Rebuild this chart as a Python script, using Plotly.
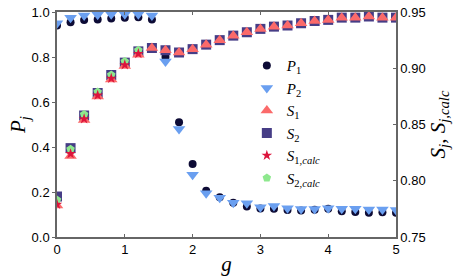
import plotly.graph_objects as go

g = [0.0, 0.2, 0.4, 0.6, 0.8, 1.0, 1.2, 1.4, 1.6, 1.8, 2.0, 2.2, 2.4, 2.6, 2.8,
     3.0, 3.2, 3.4, 3.6, 3.8, 4.0, 4.2, 4.4, 4.6, 4.8, 5.0]
P1 = [0.94, 0.955, 0.964, 0.967, 0.971, 0.974, 0.977, 0.967, 0.80, 0.51, 0.325,
      0.206, 0.177, 0.152, 0.136, 0.127, 0.126, 0.12, 0.118, 0.121, 0.126, 0.114,
      0.111, 0.108, 0.11, 0.108]
P2 = [0.95, 0.975, 0.985, 0.988, 0.99, 0.99, 0.99, 0.985, 0.78, 0.48, 0.277,
      0.195, 0.175, 0.152, 0.15, 0.132, 0.138, 0.128, 0.125, 0.125, 0.128, 0.126,
      0.126, 0.122, 0.122, 0.12]
S1 = [0.778, 0.822, 0.854, 0.875, 0.89, 0.902, 0.912, 0.918, 0.916, 0.914, 0.917,
      0.921, 0.925, 0.929, 0.932, 0.935, 0.937, 0.938, 0.940, 0.942, 0.943, 0.945,
      0.945, 0.946, 0.945, 0.945]
S2 = [0.786, 0.829, 0.858, 0.878, 0.894, 0.905, 0.915, 0.918, 0.916, 0.914, 0.917,
      0.921, 0.925, 0.929, 0.932, 0.935, 0.937, 0.938, 0.940, 0.942, 0.943, 0.945,
      0.945, 0.946, 0.945, 0.945]
g_calc = [0.0, 0.2, 0.4, 0.6, 0.8, 1.0, 1.2]
S1_calc = [0.779, 0.824, 0.855, 0.876, 0.891, 0.903, 0.913]
S2_calc = [0.783, 0.828, 0.859, 0.879, 0.894, 0.906, 0.916]

P_ticks = [0.0, 0.2, 0.4, 0.6, 0.8, 1.0]
S_ticks = [0.75, 0.80, 0.85, 0.90, 0.95]
g_ticks = [0, 1, 2, 3, 4, 5]

serif = "Liberation Serif"
sans = "Liberation Sans"

fig = go.Figure()
fig.add_trace(go.Scatter(x=g, y=P1, mode="markers", name="<i>P</i><sub>1</sub>",
                         marker=dict(symbol="circle", size=8, color="#0d0b35"),
                         legendrank=1))
fig.add_trace(go.Scatter(x=g, y=P2, mode="markers", name="<i>P</i><sub>2</sub>",
                         marker=dict(symbol="triangle-down", size=11, color="#6a9ff0"),
                         legendrank=2))
fig.add_trace(go.Scatter(x=g, y=S2, mode="markers", name="<i>S</i><sub>2</sub>",
                         marker=dict(symbol="square", size=10, color="#463d86"),
                         yaxis="y2", legendrank=4))
fig.add_trace(go.Scatter(x=g, y=S1, mode="markers", name="<i>S</i><sub>1</sub>",
                         marker=dict(symbol="triangle-up", size=11, color="#fb6a6a"),
                         yaxis="y2", legendrank=3))
fig.add_trace(go.Scatter(x=g_calc, y=S2_calc, mode="markers",
                         name="<i>S</i><sub>2,<i>calc</i></sub>",
                         marker=dict(symbol="pentagon", size=9, color="#8ee88e"),
                         yaxis="y2", legendrank=6))
fig.add_trace(go.Scatter(x=g_calc, y=S1_calc, mode="markers",
                         name="<i>S</i><sub>1,<i>calc</i></sub>",
                         marker=dict(symbol="star", size=8, color="#dc143c"),
                         yaxis="y2", legendrank=5))

axis_common = dict(showline=True, linecolor="#666666", linewidth=1.5,
                   showgrid=False, zeroline=False, ticklen=3, tickcolor="#666666",
                   tickfont=dict(family=sans, size=13, color="black"))
title_font = dict(family=serif, size=21, color="black")

fig.update_layout(
    width=463, height=277,
    margin=dict(l=57, r=67, t=5, b=40),
    plot_bgcolor="white", paper_bgcolor="white",
    font=dict(color="black"),
    showlegend=True,
    legend=dict(x=0.56, y=0.835, xanchor="left", yanchor="top",
                bgcolor="rgba(0,0,0,0)", font=dict(family=serif, size=15, color="black"),
                tracegroupgap=0, itemwidth=30),
    xaxis=dict(range=[0, 5], tickvals=g_ticks, ticks="inside", mirror="ticks",
               title=dict(text="<i>g</i>", font=title_font, standoff=0),
               **axis_common),
    yaxis=dict(range=[0, 1.0], tickvals=P_ticks, tickformat=".1f", ticks="outside",
               mirror=False, ticklabeloverflow="allow",
               title=dict(text="<i>P</i><sub><i>j</i></sub>", font=title_font, standoff=0),
               **axis_common),
    yaxis2=dict(range=[0.75, 0.95], tickvals=S_ticks, tickformat=".2f", ticks="inside",
                overlaying="y", side="right", mirror=False, ticklabeloverflow="allow",
                title=dict(text="<i>S</i><sub><i>j</i></sub>, <i>S</i><sub><i>j,calc</i></sub>",
                           font=title_font, standoff=4),
                **axis_common),
)

fig.write_html("out.html", config={"displayModeBar": False},
               post_script="document.body.style.margin='0';")
